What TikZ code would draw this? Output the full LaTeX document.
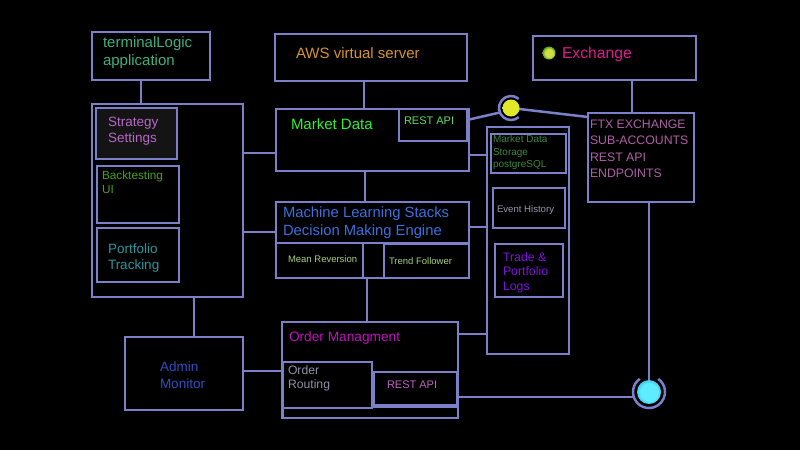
\documentclass[tikz,border=0pt]{standalone}
\usepackage{fontspec}
\setmainfont{Liberation Sans}
\definecolor{lc}{HTML}{7C80C8}
\definecolor{cTerm}{HTML}{40B080}
\definecolor{cAws}{HTML}{D8942C}
\definecolor{cMd}{HTML}{30F030}
\definecolor{cMdRest}{HTML}{60E060}
\definecolor{cStrat}{HTML}{B868C8}
\definecolor{cBack}{HTML}{48A020}
\definecolor{cPort}{HTML}{2898A0}
\definecolor{cMl}{HTML}{3C70E0}
\definecolor{cMean}{HTML}{A8D080}
\definecolor{cOm}{HTML}{C010C0}
\definecolor{cRout}{HTML}{9090A8}
\definecolor{cOmRest}{HTML}{C060C8}
\definecolor{cAdmin}{HTML}{3050C0}
\definecolor{cExch}{HTML}{E01890}
\definecolor{cFtx}{HTML}{B060A8}
\definecolor{cMds}{HTML}{3A8A40}
\definecolor{cEvt}{HTML}{9898B0}
\definecolor{cLogs}{HTML}{8010E0}
\definecolor{ycen}{HTML}{E0E828}
\definecolor{yout}{HTML}{8A9A10}
\definecolor{yhalo}{HTML}{203810}
\definecolor{ccen}{HTML}{60ECFF}
\definecolor{cmid}{HTML}{20A8E0}
\definecolor{cout}{HTML}{104880}
\definecolor{gcen}{HTML}{D0E040}
\definecolor{gmid}{HTML}{309020}
\definecolor{stratfill}{HTML}{141414}
\pgfdeclareradialshading{yglow}{\pgfpoint{0bp}{0bp}}{color(0bp)=(ycen); color(25bp)=(ycen); color(40bp)=(yout); color(46bp)=(yhalo); color(50bp)=(black)}
\pgfdeclareradialshading{cglow}{\pgfpoint{0bp}{0bp}}{color(0bp)=(ccen); color(18bp)=(ccen); color(32bp)=(cmid); color(42bp)=(cout); color(50bp)=(black)}
\pgfdeclareradialshading{gglow}{\pgfpoint{0bp}{0bp}}{color(0bp)=(gcen); color(15bp)=(gcen); color(28bp)=(gmid); color(50bp)=(black)}
\newcommand\mybox[6][]{\node[bx,#1,minimum width={#5-#3},minimum height={#6-#4}] (#2) at (#3,#4) {};}
\begin{document}
\begin{tikzpicture}[x=1pt,y=-1pt,
  ln/.style={draw=lc,line width=2.5pt},
  bx/.style={draw=lc,line width=2.5pt,fill=black,rectangle,inner sep=0pt,outer sep=0pt,anchor=north west},
  tx/.style={anchor=base west,align=left,inner sep=0pt,outer sep=0pt}]
\fill[black] (0,0) rectangle (800,450);
\useasboundingbox (0,0) rectangle (800,450);
% guides
\coordinate (vA) at (141,0);
\coordinate (vB) at (364,0);
\coordinate (vC) at (365,0);
\coordinate (vD) at (367,0);
\coordinate (vE) at (194,0);
\coordinate (vF) at (632,0);
\coordinate (hA) at (0,153);
\coordinate (hB) at (0,232);
\coordinate (hC) at (0,371);
\coordinate (hD) at (0,155);
\coordinate (hE) at (0,227);
\coordinate (hF) at (0,334);
\coordinate (hG) at (0,397);
% outer boxes
\mybox{term}{92}{32}{210}{80}
\mybox{aws}{275}{34}{467}{81}
\mybox{md}{276}{109}{469}{171}
\mybox{left}{92}{104}{243}{297}
\mybox{ml}{276}{202}{469}{278}
\mybox{om}{282}{322}{458}{418}
\mybox{admin}{125}{337}{243}{410}
\mybox{stor}{487}{127}{569}{354}
\mybox{exch}{533}{36}{696}{80}
\mybox{ftx}{588}{113}{694}{202}
% inner boxes
\mybox{mdrest}{399}{109}{467}{141}
\mybox[fill=stratfill]{strat}{96}{108}{177}{159}
\mybox{back}{97}{166}{179}{223}
\mybox{port}{97}{228}{179}{282}
\mybox{mlhead}{276}{202}{469}{243}
\mybox{mean}{276}{243}{363}{278}
\mybox{trend}{384}{244}{469}{278}
\mybox{omfoot}{283}{407}{458}{418}
\mybox{orr}{283}{362}{372}{408}
\mybox{omrest}{374}{372}{457}{405}
\mybox{mds}{491}{134}{566}{173}
\mybox{evt}{493}{188}{565}{228}
\mybox{logs}{495}{244}{563}{297}
% junction balls
\node[circle,minimum size=24pt,inner sep=0pt] (yring) at (511,108) {};
\node[circle,minimum size=32pt,inner sep=0pt] (cring) at (649,392) {};
% connectors
\draw[ln] (term.south -| vA) -- (left.north -| vA);
\draw[ln] (aws.south -| vB) -- (md.north -| vB);
\draw[ln] (left.east |- hA) -- (md.west |- hA);
\draw[ln] (md.south -| vC) -- (ml.north -| vC);
\draw[ln] (left.east |- hB) -- (ml.west |- hB);
\draw[ln] (ml.south -| vD) -- (om.north -| vD);
\draw[ln] (left.south -| vE) -- (admin.north -| vE);
\draw[ln] (admin.east |- hC) -- (orr.west |- hC);
\draw[ln] (md.east |- hD) -- (stor.west |- hD);
\draw[ln] (ml.east |- hE) -- (stor.west |- hE);
\draw[ln] (om.east |- hF) -- (stor.west |- hF);
\draw[ln] (exch.south -| vF) -- (ftx.north -| vF);
\draw[ln] ([yshift=5pt]mdrest.east) -- (yring.202);
\draw[ln] (yring.center) -- ([yshift=-4pt]ftx.north west);
\draw[ln] (ftx.south -| cring) -- (cring.center);
\draw[ln] (om.east |- hG) -- (cring.west |- hG);
% rings
\begin{scope}[shift={(511,108)},y=1pt]
\draw[ln] (50:12) arc[start angle=50,end angle=310,radius=12];
\end{scope}
\begin{scope}[shift={(649,392)},y=1pt]
\draw[ln] (125:16) arc[start angle=125,end angle=415,radius=16];
\end{scope}
\node[circle,minimum size=17pt,inner sep=0pt,shading=yglow] (yball) at (511,108) {};
\node[circle,minimum size=24pt,inner sep=0pt,shading=cglow] (cball) at (649,392) {};
\node[circle,minimum size=13pt,inner sep=0pt,shading=gglow] (gdot) at (549,53) {};
% texts (multi-line nodes: base = last line)
\node[tx,text=cTerm,font=\fontsize{15}{18}\selectfont] (tTerm) at (103,65) {terminalLogic\\application};
\node[tx,text=cAws,font=\fontsize{15}{18}\selectfont] (tAws) at (296,58) {AWS virtual server};
\node[tx,text=cMd,font=\fontsize{15}{18}\selectfont] (tMd) at (291,129) {Market Data};
\node[tx,text=cMdRest,font=\fontsize{11}{13}\selectfont] (tMdRest) at (404,124) {REST API};
\node[tx,text=cStrat,font=\fontsize{13.5}{16}\selectfont] (tStrat) at (108,142) {Strategy\\Settings};
\node[tx,text=cBack,font=\fontsize{11.8}{14}\selectfont] (tBack) at (102,193) {Backtesting\\UI};
\node[tx,text=cPort,font=\fontsize{13.5}{16}\selectfont] (tPort) at (108,269) {Portfolio\\Tracking};
\node[tx,text=cMl,font=\fontsize{14.8}{18}\selectfont] (tMl) at (283,235) {Machine Learning Stacks\\Decision Making Engine};
\node[tx,text=cMean,font=\fontsize{9.5}{11}\selectfont] (tMean) at (288,262) {Mean Reversion};
\node[tx,text=cMean,font=\fontsize{9.5}{11}\selectfont] (tTrend) at (389,264) {Trend Follower};
\node[tx,text=cOm,font=\fontsize{13.7}{16}\selectfont] (tOm) at (289,341) {Order Managment};
\node[tx,text=cRout,font=\fontsize{12.2}{14}\selectfont] (tRout) at (288,388) {Order\\Routing};
\node[tx,text=cOmRest,font=\fontsize{11}{13}\selectfont] (tOmRest) at (387,388) {REST API};
\node[tx,text=cAdmin,font=\fontsize{13.5}{17}\selectfont] (tAdmin) at (160,388) {Admin\\Monitor};
\node[tx,text=cExch,font=\fontsize{15.7}{18}\selectfont] (tExch) at (562,58) {Exchange};
\node[tx,text=cFtx,font=\fontsize{12.3}{16.4}\selectfont] (tFtx) at (590,177.7) {FTX EXCHANGE\\SUB-ACCOUNTS\\REST API\\ENDPOINTS};
\node[tx,text=cMds,font=\fontsize{10}{12.5}\selectfont] (tMds) at (493,167.5) {Market Data\\Storage\\postgreSQL};
\node[tx,text=cEvt,font=\fontsize{9.6}{11}\selectfont] (tEvt) at (497,212.5) {Event History};
\node[tx,text=cLogs,font=\fontsize{12.3}{14.5}\selectfont] (tLogs) at (503,290) {Trade \&\\Portfolio\\Logs};
\end{tikzpicture}
\end{document}
